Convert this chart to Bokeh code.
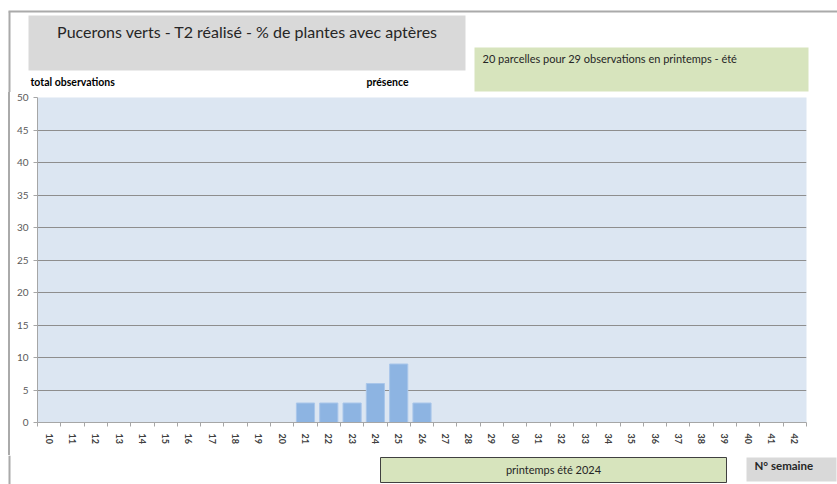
from bokeh.plotting import figure
from bokeh.layouts import column
from bokeh.models import Range1d, FixedTicker, ColumnDataSource
from bokeh.core.properties import value
from bokeh.embed import file_html
from bokeh.resources import INLINE

# ---- data ----
weeks = list(range(10, 43))
week_labels = [str(w) for w in weeks]
values = [0, 0, 0, 0, 0, 0, 0, 0, 0, 0, 0, 3, 3, 3, 6, 9, 3,
          0, 0, 0, 0, 0, 0, 0, 0, 0, 0, 0, 0, 0, 0, 0, 0]
y_ticks = [0, 5, 10, 15, 20, 25, 30, 35, 40, 45, 50]

title_text = "Pucerons verts - T2 réalisé - % de plantes avec aptères"
info_text = "20 parcelles pour 29 observations en printemps - été"
left_label = "total observations"
mid_label = "présence"
season_text = "printemps été 2024"
xaxis_text = "N° semaine"

FONT = "Lato"
W = 837
TOP_H = 92          # top decoration band
MAIN_TOP = 92       # page y of the main figure
MAIN_BOT = 455      # page y where main figure ends
BOT_H = 484 - MAIN_BOT
FL, FR, FT, FB = 37, 806, 97, 422   # chart frame edges in page pixels
FRAME_GRAY = "#AAAAAA"


def deco(width, height):
    f = figure(width=width, height=height, output_backend="svg",
               toolbar_location=None, x_axis_type=None, y_axis_type=None,
               x_range=Range1d(0, width), y_range=Range1d(height, 0),
               min_border=0)
    f.min_border_left = f.min_border_right = 0
    f.min_border_top = f.min_border_bottom = 0
    f.frame_align = False
    f.outline_line_color = None
    f.background_fill_color = "white"
    f.border_fill_color = "white"
    f.grid.visible = False
    return f


def txt(f, x, y, t, size, align="left", bold=False, color="#262626"):
    f.text(x=[x], y=[y], text=[t], text_font=value(FONT),
           text_font_size=size, text_align=align, text_baseline="middle",
           text_color=color, text_font_style="bold" if bold else "normal")


# ---- top band (page y 0..TOP_H) ----
top = deco(W, TOP_H)
top.quad(left=[8], right=[W], top=[10], bottom=[12], fill_color=FRAME_GRAY, line_color=None)
top.quad(left=[8], right=[10], top=[11], bottom=[TOP_H], fill_color=FRAME_GRAY, line_color=None)
top.quad(left=[28], right=[465], top=[15], bottom=[70], fill_color="#D9D9D9", line_color=None)
top.quad(left=[474], right=[808], top=[47], bottom=[91], fill_color="#D7E4BD", line_color=None)
txt(top, 247, 31, title_text, "16px", align="center")
txt(top, 482, 58, info_text, "11px")
txt(top, 30, 81, left_label, "10.5px", bold=True, color="#000000")
txt(top, 366, 81, mid_label, "10.5px", bold=True, color="#000000")

# ---- main chart ----
MAIN_H = MAIN_BOT - MAIN_TOP
src = ColumnDataSource(dict(week=weeks, val=values))
p = figure(width=W, height=MAIN_H, output_backend="svg", toolbar_location=None,
           x_range=Range1d(weeks[0] - 0.5, weeks[-1] + 0.5),
           y_range=Range1d(0, 50),
           min_border_left=FL, min_border_right=W - FR,
           min_border_top=FT - MAIN_TOP, min_border_bottom=MAIN_BOT - FB)
p.frame_align = False
p.background_fill_color = "#DCE6F2"
p.border_fill_color = "white"
p.border_fill_alpha = 0
p.outline_line_color = None
# the outer frame's left rule, behind the transparent border
p.styles = {"background": "linear-gradient(to right, white 8px, %s 8px, %s 10px, white 10px)"
            % (FRAME_GRAY, FRAME_GRAY)}

p.vbar(x="week", top="val", width=0.78, source=src,
       fill_color="#8DB4E2", line_color="#A9C6EA", line_width=1)

p.yaxis.ticker = FixedTicker(ticks=y_ticks)
p.yaxis.axis_line_color = "#A6A6A6"
p.yaxis.major_tick_line_color = "#A6A6A6"
p.yaxis.major_tick_in = 0
p.yaxis.major_tick_out = 4
p.yaxis.minor_tick_line_color = None
p.yaxis.major_label_text_font = FONT
p.yaxis.major_label_text_font_size = "10px"
p.yaxis.major_label_text_color = "#595959"
p.yaxis.major_label_standoff = 5

bounds = [w - 0.5 for w in weeks] + [weeks[-1] + 0.5]
p.xaxis.ticker = FixedTicker(ticks=weeks, minor_ticks=bounds)
p.xaxis.major_label_overrides = {w: l for w, l in zip(weeks, week_labels)}
p.xaxis.axis_line_color = "#A6A6A6"
p.xaxis.major_tick_line_color = None
p.xaxis.minor_tick_line_color = "#A6A6A6"
p.xaxis.minor_tick_in = 0
p.xaxis.minor_tick_out = 4
p.xaxis.major_label_orientation = "vertical"
p.xaxis.major_label_text_font = FONT
p.xaxis.major_label_text_font_size = "9px"
p.xaxis.major_label_text_font_style = "bold"
p.xaxis.major_label_text_color = "#404040"
p.xaxis.major_label_standoff = 5

p.xgrid.grid_line_color = None
p.ygrid.ticker = FixedTicker(ticks=y_ticks)
p.ygrid.grid_line_color = "#8E8E8E"
p.ygrid.grid_line_width = 1

# ---- bottom band (page y MAIN_BOT..484) ----
bot = deco(W, BOT_H)
o = MAIN_BOT
bot.quad(left=[8], right=[10], top=[0], bottom=[BOT_H], fill_color=FRAME_GRAY, line_color=None)
bot.quad(left=[380], right=[726], top=[457 - o], bottom=[482 - o],
         fill_color="#D7E4BD", line_color="#404040", line_width=1)
bot.quad(left=[746], right=[836], top=[457 - o], bottom=[481 - o],
         fill_color="#D9D9D9", line_color=None)
txt(bot, 553, 469 - o, season_text, "11px", align="center")
txt(bot, 754, 465 - o, xaxis_text, "11.5px", bold=True, color="#262626")

layout = column(top, p, bot)
open("out.html", "w").write(file_html(layout, INLINE))
